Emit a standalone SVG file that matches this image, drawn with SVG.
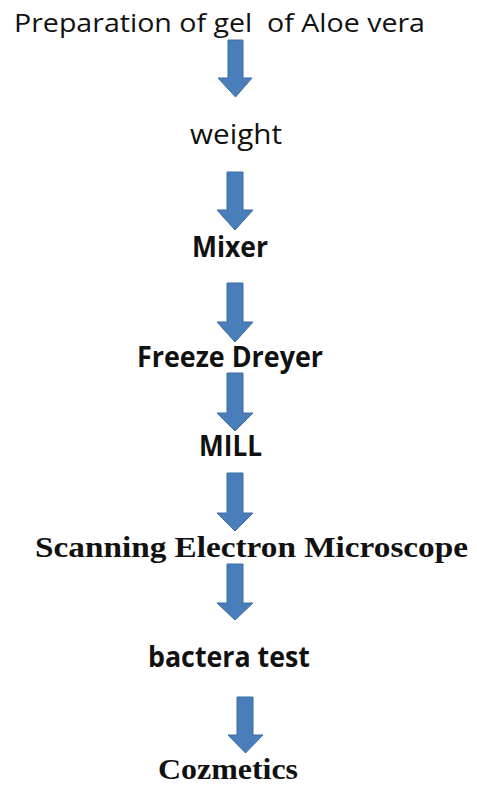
<svg xmlns="http://www.w3.org/2000/svg" width="477" height="787" viewBox="0 0 477 787">
<defs>
<style>
.sans{font-family:"Open Sans","Liberation Sans",sans-serif;fill:#111;}
.b{font-weight:bold;}
.serif{font-family:"Liberation Serif","DejaVu Serif",serif;font-weight:bold;fill:#111;}
.arrow{fill:#4a7ebb;stroke:#3b6aa3;stroke-width:1;}
</style>
</defs>
<rect width="477" height="787" fill="#fff"/>
<g id="connectors">
<path class="arrow" d="M228,40 H243 V78 H252 L235.5,97 L218,78 H228 Z"/>
<path class="arrow" d="M227,172 H243 V210 H253 L235,230 L217,210 H227 Z"/>
<path class="arrow" d="M227,283 H243 V322 H253 L235,342 L217,322 H227 Z"/>
<path class="arrow" d="M227,373 H243 V413 H253 L235,431 L217,413 H227 Z"/>
<path class="arrow" d="M227,473 H243 V513 H253 L235,531 L217,513 H227 Z"/>
<path class="arrow" d="M227,564 H243 V603 H253 L235,620 L217,603 H227 Z"/>
<path class="arrow" d="M237,697 H253 V735 H263 L245.5,753 L228,735 H237 Z"/>
</g>
<g id="n1"><text class="sans" x="14" y="32" font-size="25" textLength="411" lengthAdjust="spacingAndGlyphs" xml:space="preserve">Preparation of gel  of Aloe vera</text></g>
<g id="n2"><text class="sans" x="190" y="144" font-size="28" textLength="92" lengthAdjust="spacingAndGlyphs">weight</text></g>
<g id="n3"><text class="sans b" x="192" y="257" font-size="28" textLength="76" lengthAdjust="spacingAndGlyphs">Mixer</text></g>
<g id="n4"><text class="sans b" x="137" y="367" font-size="28" textLength="186" lengthAdjust="spacingAndGlyphs">Freeze Dreyer</text></g>
<g id="n5"><text class="sans b" x="199" y="456" font-size="28" textLength="63" lengthAdjust="spacingAndGlyphs">MILL</text></g>
<g id="n6"><text class="serif" x="35" y="557" font-size="29" textLength="433" lengthAdjust="spacingAndGlyphs">Scanning Electron Microscope</text></g>
<g id="n7"><text class="sans b" x="148" y="667" font-size="28" textLength="162" lengthAdjust="spacingAndGlyphs">bactera test</text></g>
<g id="n8"><text class="serif" x="158" y="779" font-size="29" textLength="140" lengthAdjust="spacingAndGlyphs">Cozmetics</text></g>
</svg>
